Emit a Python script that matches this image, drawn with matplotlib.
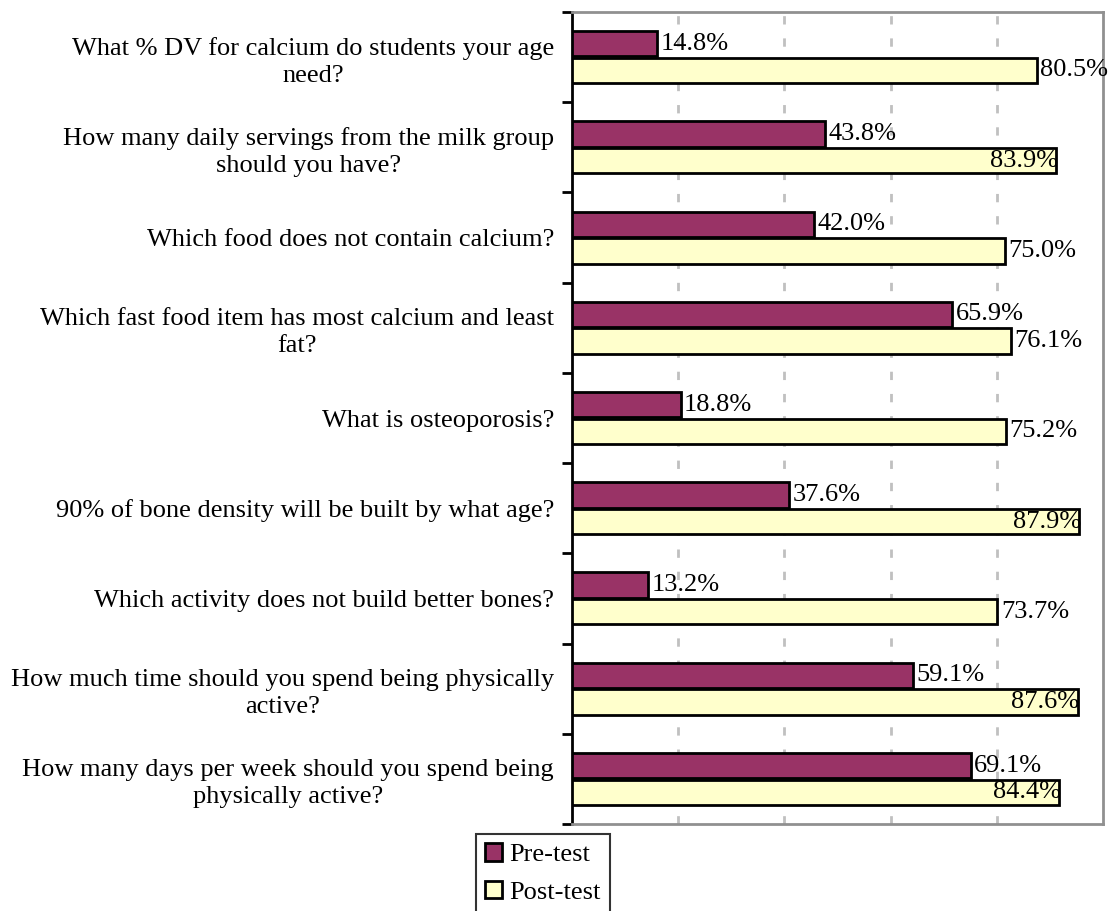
import matplotlib.pyplot as plt
import numpy as np

# questions, top to bottom
questions = [
    "What % DV for calcium do students your age\nneed?",
    "How many daily servings from the milk group\nshould you have?",
    "Which food does not contain calcium?",
    "Which fast food item has most calcium and least\nfat?",
    "What is osteoporosis?",
    "90% of bone density will be built by what age?",
    "Which activity does not build better bones?",
    "How much time should you spend being physically\nactive?",
    "How many days per week should you spend being\nphysically active?",
]
pre_test = [14.8, 43.8, 42.0, 65.9, 18.8, 37.6, 13.2, 59.1, 69.1]
post_test = [80.5, 83.9, 75.0, 76.1, 75.2, 87.9, 73.7, 87.6, 84.4]
series_names = ["Pre-test", "Post-test"]

plt.rcParams['font.family'] = ['Liberation Serif', 'DejaVu Serif']
fs = 19

fig = plt.figure(figsize=(11.1, 9.11), dpi=100)
ax = fig.add_axes([572/1110, 1-824/911, (1103-572)/1110, (824-12)/911])

n = len(questions)
y = np.arange(n)[::-1]
h = 0.28
off = 0.148
xmax = 92.0

ax.barh(y + off, pre_test, height=h, color='#993366', edgecolor='black',
        linewidth=2, label=series_names[0], zorder=3)
ax.barh(y - off, post_test, height=h, color='#FFFFCC', edgecolor='black',
        linewidth=2, label=series_names[1], zorder=3)

# value labels (Excel puts them inside when there's no room)
for yy, v in zip(y, pre_test):
    ax.text(v + 0.6, yy + off, f"{v:.1f}%", va='center', ha='left',
            fontsize=fs, zorder=4)
for yy, v in zip(y, post_test):
    if v > 82:
        ax.text(v + 0.3, yy - off, f"{v:.1f}%", va='center', ha='right',
                fontsize=fs, zorder=4)
    else:
        ax.text(v + 0.6, yy - off, f"{v:.1f}%", va='center', ha='left',
                fontsize=fs, zorder=4)

ax.set_xlim(0, xmax)
ax.set_ylim(-0.5, n - 0.5)

# dashed vertical gridlines
for gx in np.linspace(0, xmax, 6)[1:-1]:
    ax.axvline(gx, color='#c0c0c0', linestyle=(0, (3, 5)), linewidth=2, zorder=1)
ax.set_xticks([])

ax.set_yticks(y)
ax.set_yticklabels(questions, fontsize=fs)
for lab in ax.get_yticklabels():
    lab.set_multialignment('center')
    lab.set_linespacing(1.28)
ax.tick_params(axis='y', which='major', length=0, pad=13)
ax.set_yticks(np.arange(n + 1) - 0.5, minor=True)
ax.tick_params(axis='y', which='minor', length=7, width=2, color='black')

ax.spines['left'].set_color('black')
ax.spines['left'].set_linewidth(2)
for s in ['top', 'right', 'bottom']:
    ax.spines[s].set_color('#909090')
    ax.spines[s].set_linewidth(2)

leg = fig.legend(loc='upper left', bbox_to_anchor=(476/1110, 1-834/911),
                 fontsize=fs, frameon=True, fancybox=False, edgecolor='black',
                 handlelength=0.65, handleheight=0.65, handletextpad=0.25,
                 labelspacing=0.55, borderpad=0.35, borderaxespad=0)
leg.get_frame().set_linewidth(1.5)

fig.savefig('out.png', dpi=100)
